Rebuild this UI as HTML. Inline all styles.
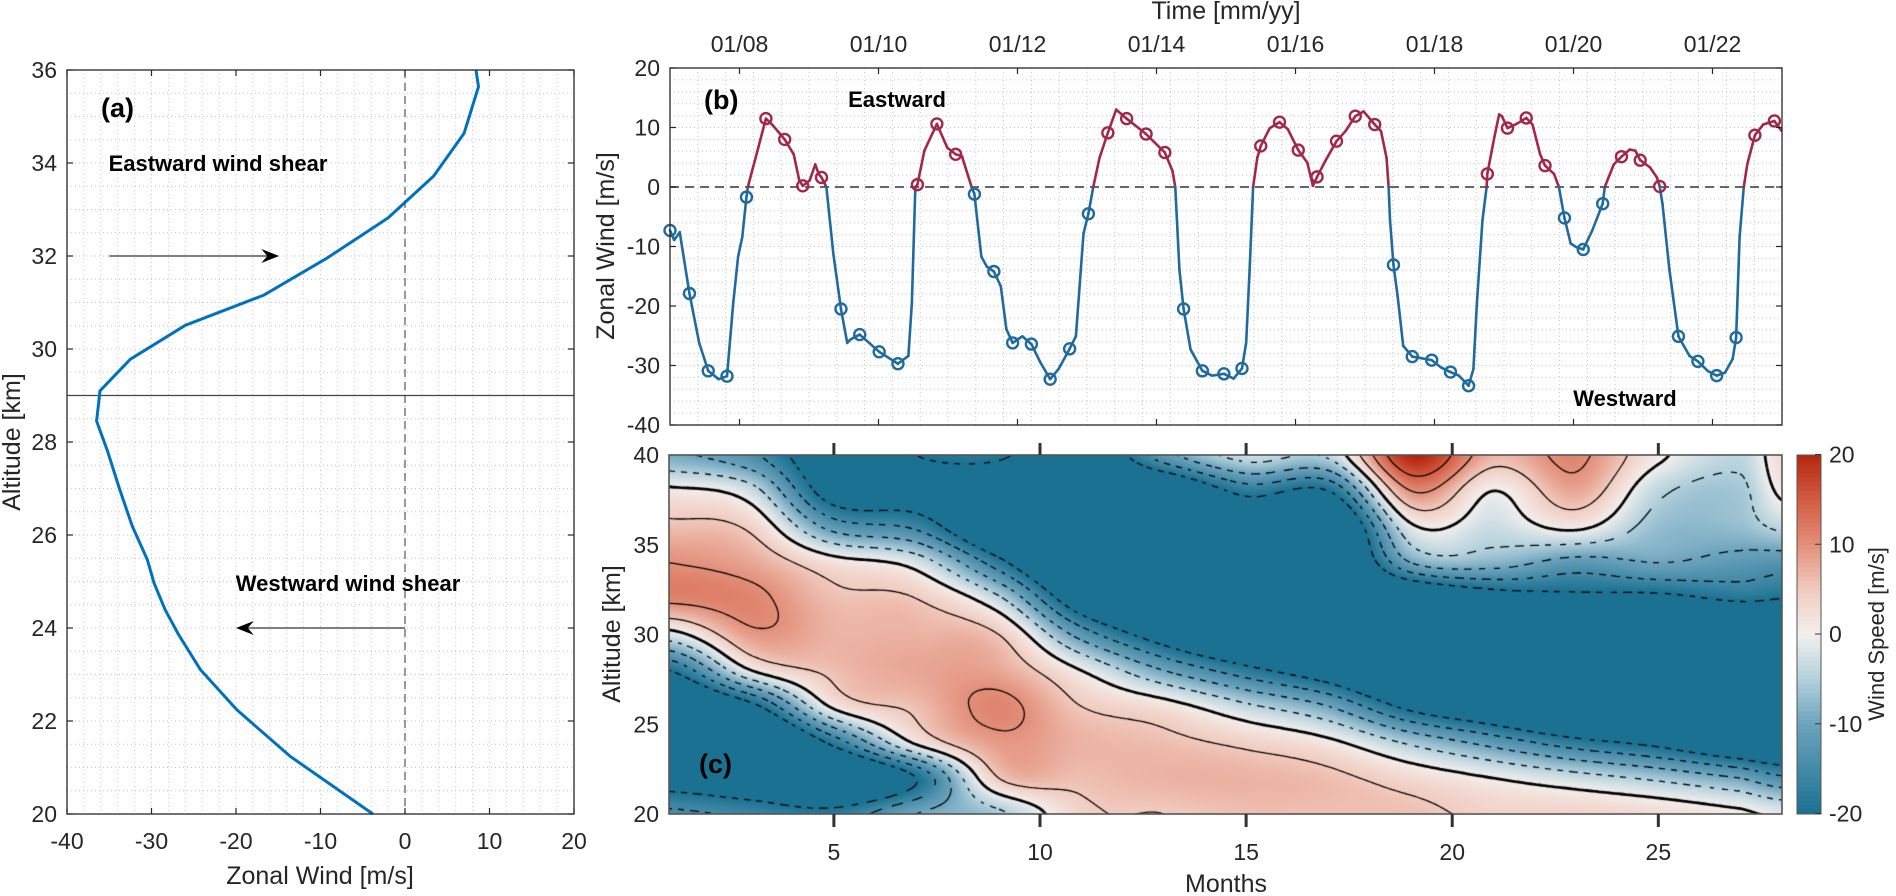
<!DOCTYPE html>
<html><head><meta charset="utf-8">
<style>
html,body{margin:0;padding:0;background:#fff;}
#wrap{position:relative;width:1896px;height:896px;overflow:hidden;font-family:"Liberation Sans",Arial,sans-serif;}
#field{position:absolute;left:669px;top:455px;}
#svg{position:absolute;left:0;top:0;}
</style></head>
<body>
<div id="wrap">
<canvas id="field" width="1113" height="359"></canvas>
<svg id="svg" width="1896" height="896" xmlns="http://www.w3.org/2000/svg"></svg>
</div>
<script>
// ---------- Panel (a) data ----------
const aAlt=[36,35.64,34.64,33.72,32.82,31.96,31.16,30.51,29.78,29.1,28.45,27.8,27,26.2,25.47,24.97,24.4,23.86,23.1,22.24,21.24,20];
const aWind=[8.4,8.7,7.0,3.4,-2.0,-9.2,-16.7,-26,-32.5,-36.1,-36.5,-35.2,-33.8,-32.3,-30.5,-29.7,-28.4,-26.8,-24.2,-19.9,-13.6,-3.8];
const aXTicks=[-40,-30,-20,-10,0,10,20];
const aYTicks=[20,22,24,26,28,30,32,34,36];
// ---------- Panel (b) data ----------
const bLineT=[2007.00,2007.06,2007.14,2007.28,2007.42,2007.55,2007.70,2007.82,2007.91,2007.98,2008.04,2008.10,2008.12,2008.27,2008.38,2008.47,2008.65,2008.78,2008.86,2008.91,2009.01,2009.09,2009.14,2009.18,2009.25,2009.35,2009.46,2009.55,2009.60,2009.73,2010.01,2010.28,2010.43,2010.48,2010.53,2010.56,2010.66,2010.84,2010.99,2011.11,2011.20,2011.34,2011.38,2011.48,2011.56,2011.66,2011.76,2011.84,2011.93,2012.07,2012.20,2012.33,2012.47,2012.59,2012.75,2012.84,2012.95,2013.02,2013.09,2013.18,2013.30,2013.42,2013.57,2013.85,2014.12,2014.23,2014.27,2014.33,2014.39,2014.49,2014.66,2014.80,2014.97,2015.11,2015.23,2015.29,2015.34,2015.39,2015.45,2015.50,2015.63,2015.77,2015.89,2016.04,2016.17,2016.25,2016.31,2016.43,2016.59,2016.72,2016.86,2016.98,2017.14,2017.23,2017.31,2017.34,2017.36,2017.41,2017.47,2017.55,2017.68,2017.96,2018.09,2018.23,2018.35,2018.49,2018.56,2018.61,2018.69,2018.75,2018.76,2018.86,2018.93,2018.97,2019.05,2019.18,2019.32,2019.41,2019.52,2019.59,2019.72,2019.79,2019.87,2019.96,2020.04,2020.14,2020.27,2020.42,2020.45,2020.58,2020.69,2020.81,2020.89,2020.96,2021.10,2021.20,2021.24,2021.28,2021.38,2021.51,2021.67,2021.79,2021.93,2022.06,2022.18,2022.29,2022.34,2022.39,2022.45,2022.50,2022.61,2022.73,2022.89,2022.99];
const bLineV=[-7.3,-8.9,-7.6,-17.9,-26.2,-30.9,-32.3,-31.8,-19.5,-11.7,-8.4,-1.7,0,6.6,11.5,10.5,8.0,5.5,1.1,0.2,1.1,3.8,2.2,1.6,0,-11.2,-20.5,-26.2,-25.6,-24.8,-27.7,-29.7,-28.4,-19.5,0,0.4,6.1,10.6,6.6,5.5,5.2,0,-1.2,-11.7,-13.4,-14.2,-16.7,-23.9,-26.2,-25.1,-26.4,-29.5,-32.3,-30.6,-27.2,-25.1,-7.8,-4.5,0,4.9,9.1,13.0,11.5,8.9,5.8,2.7,0,-13.9,-20.5,-27.3,-30.9,-31.7,-31.4,-32.2,-30.5,-26.2,-13.9,0,4.9,6.9,9.9,10.9,9.7,6.2,4.1,0.2,1.7,4.4,7.7,9.4,11.9,12.7,10.5,9.4,4.9,0,-5.6,-13.1,-18.4,-26.7,-28.5,-29.1,-30.3,-31.1,-31.7,-33.4,-30.6,-19.5,-5.6,0,2.2,8.3,12.2,11.9,9.9,10.6,11.6,10.5,5.5,3.6,2.2,0,-5.2,-9.5,-10.1,-10.5,-7.3,-2.8,0,3.8,5.1,6.3,6.1,4.5,3.3,1.6,0.1,-2.8,-13.9,-25.1,-28.4,-29.3,-30.9,-31.7,-31.2,-28.9,-25.3,-8.4,0,3.8,8.7,10.5,11.1,9.5];
const bMarkT=[2007.00,2007.28,2007.55,2007.82,2008.10,2008.38,2008.65,2008.91,2009.18,2009.46,2009.73,2010.01,2010.28,2010.56,2010.84,2011.11,2011.38,2011.66,2011.93,2012.20,2012.47,2012.75,2013.02,2013.30,2013.57,2013.85,2014.12,2014.39,2014.66,2014.97,2015.23,2015.50,2015.77,2016.04,2016.31,2016.59,2016.86,2017.14,2017.41,2017.68,2017.96,2018.23,2018.49,2018.76,2019.05,2019.32,2019.59,2019.87,2020.14,2020.42,2020.69,2020.96,2021.24,2021.51,2021.79,2022.06,2022.34,2022.61,2022.89];
const bMarkV=[-7.3,-17.9,-30.9,-31.8,-1.7,11.5,8.0,0.2,1.6,-20.5,-24.8,-27.7,-29.7,0.4,10.6,5.5,-1.2,-14.2,-26.2,-26.4,-32.3,-27.2,-4.5,9.1,11.5,8.9,5.8,-20.5,-30.9,-31.4,-30.5,6.9,10.9,6.2,1.7,7.7,11.9,10.5,-13.1,-28.5,-29.1,-31.1,-33.4,2.2,9.9,11.6,3.6,-5.2,-10.5,-2.8,5.1,4.5,0.1,-25.1,-29.3,-31.7,-25.3,8.7,11.1];
const bYTicks=[-40,-30,-20,-10,0,10,20];
const bDateTicks=[2008,2010,2012,2014,2016,2018,2020,2022];
const bDateLabels=['01/08','01/10','01/12','01/14','01/16','01/18','01/20','01/22'];
// ---------- Panel (c) data ----------
const cMonths=[1,3,5,7,9,11,13,15,17,19,21,23,25,27,28];
const cAlts=[20,22,24,26,28,30,32,34,36,38,40];
const cField=[
[-14,-24,-32,-32,-20,-2,11,10,6,1,-9],
[-16,-28,-35,-22,0,9,11,8,4,-3,-14],
[-18,-32,-18,1,6,7,6,2,-12,-24,-26],
[-10,-20,1,6,8,7,5,-2,-16,-24,-20],
[-6,5,9,11,8,5,-4,-18,-30,-28,-19],
[4,6,7,5,0,-12,-26,-35,-35,-35,-28],
[5,7,6,2,-10,-24,-35,-35,-35,-30,-12],
[6,7,4,-4,-18,-32,-35,-35,-30,-18,-3],
[6,6,1,-10,-25,-35,-35,-35,-33,-20,-4],
[6,3,-6,-22,-35,-35,-30,-10,-1,10,20],
[4,0,-12,-28,-35,-35,-24,-8,-3,0,7],
[4,-3,-18,-35,-35,-35,-22,-12,1,8,11],
[3,-6,-22,-35,-35,-35,-22,-10,-7,-4,1],
[1,-10,-28,-35,-35,-35,-19,-12,-7,-6,-4],
[-1,-14,-30,-35,-35,-35,-20,-13,-4,1,3]];
const cXTicks=[5,10,15,20,25];
const cYTicks=[20,25,30,35,40];
const cbTicks=[-20,-10,0,10,20];
const cLevels=[-20,-15,-10,-5,0,5,10,15];

// ---------- scales ----------
const Xa=w=>67+(w+40)*8.45, Ya=h=>814-(h-20)*46.5;
const Xb=t=>670+(t-2007)*69.5, Yb=v=>68+(20-v)*5.95;
const Xc=m=>669+(m-1)*(1113/27), Yc=a=>814-(a-20)*17.95;
const Ycb=v=>634-v*(359/40);

const NS='http://www.w3.org/2000/svg';
const svg=document.getElementById('svg');
function mk(tag,attrs,parent){const e=document.createElementNS(NS,tag);for(const k in attrs)e.setAttribute(k,attrs[k]);(parent||svg).appendChild(e);return e;}
function grp(name){const g=mk('g',{});return g;}
const TXT='#262626';
const FT=23, FA=25;
function label(g,x,y,s,opts){const t=mk('text',Object.assign({x:x,y:y,'font-size':FT,fill:TXT,'font-family':'Liberation Sans, Arial, sans-serif'},opts||{}),g);t.textContent=s;return t;}

// ---------- colormap ----------
const cmStops=[[-20,[26,113,146]],[-10,[108,163,189]],[-5,[178,208,220]],[0,[243,240,238]],[5,[241,203,191]],[10,[227,143,122]],[15,[211,92,66]],[20,[180,38,14]]];
function cmap(v){if(v<=-20)return cmStops[0][1];if(v>=20)return cmStops[7][1];
for(let i=0;i<7;i++){const a=cmStops[i],b=cmStops[i+1];if(v<=b[0]){const f=(v-a[0])/(b[0]-a[0]);return [0,1,2].map(k=>Math.round(a[1][k]+(b[1][k]-a[1][k])*f));}}}

// ---------- field interpolation ----------
function cr(p0,p1,p2,p3,t){return 0.5*((2*p1)+(-p0+p2)*t+(2*p0-5*p1+4*p2-p3)*t*t+(-p0+3*p1-3*p2+p3)*t*t*t);}
function colAt(ci,a){ci=Math.max(0,Math.min(cMonths.length-1,ci));const col=cField[ci];
let fi=(a-cAlts[0])/(cAlts[1]-cAlts[0]);let i=Math.min(Math.floor(fi),col.length-2);const t=fi-i;
const g=k=>col[Math.max(0,Math.min(col.length-1,k))];return cr(g(i-1),g(i),g(i+1),g(i+2),t);}
function fieldAt(m,a){let i=0;while(i<cMonths.length-2&&m>cMonths[i+1])i++;
const t=(m-cMonths[i])/(cMonths[i+1]-cMonths[i]);return cr(colAt(i-1,a),colAt(i,a),colAt(i+1,a),colAt(i+2,a),t);}

// draw field
(function(){const cv=document.getElementById('field');const ctx=cv.getContext('2d');
const W=cv.width,H=cv.height;const img=ctx.createImageData(W,H);
const mPerPx=27/1113, aPerPx=20/359;
for(let y=0;y<H;y++){const a=40-(y+0.5)*aPerPx;for(let x=0;x<W;x++){const m=1+(x+0.5)*mPerPx;const c=cmap(fieldAt(m,a));const o=(y*W+x)*4;img.data[o]=c[0];img.data[o+1]=c[1];img.data[o+2]=c[2];img.data[o+3]=255;}}
ctx.putImageData(img,0,0);
const S=3;const nx=Math.ceil(W/S)+1,ny=Math.ceil(H/S)+1;const V=[];
for(let j=0;j<ny;j++){V[j]=[];for(let i=0;i<nx;i++){V[j][i]=fieldAt(1+i*S*mPerPx,40-j*S*aPerPx);}}
cLevels.forEach(L=>{
ctx.strokeStyle='#000';ctx.lineWidth=L===0?2.8:1.3;ctx.beginPath();
for(let j=0;j<ny-1;j++)for(let i=0;i<nx-1;i++){
const v0=V[j][i],v1=V[j][i+1],v2=V[j+1][i+1],v3=V[j+1][i];
const pts=[];const x0=i*S,y0=j*S;
const e=(va,vb,xa,ya,xb,yb)=>{if((va<L)!==(vb<L)){const f=(L-va)/(vb-va);pts.push([xa+(xb-xa)*f,ya+(yb-ya)*f]);}};
e(v0,v1,x0,y0,x0+S,y0);e(v1,v2,x0+S,y0,x0+S,y0+S);e(v3,v2,x0,y0+S,x0+S,y0+S);e(v0,v3,x0,y0,x0,y0+S);
for(let k=0;k+1<pts.length;k+=2){const p=pts[k],q=pts[k+1];
if(L<0){const s=(p[0]+q[0])/2+(p[1]+q[1])/2;if(Math.floor(s/7)%2===1)continue;}
ctx.moveTo(p[0],p[1]);ctx.lineTo(q[0],q[1]);}}
ctx.stroke();});
})();

// ================= Panel (a) =================
const gA=grp('panel-a');
const gAg=grp('panel-a-grid');gA.appendChild(gAg);
for(let w=-38;w<20;w+=2){mk('line',{x1:Xa(w),x2:Xa(w),y1:70,y2:814,stroke:'#c4c4c4','stroke-width':1,'stroke-dasharray':'1 3'},gAg);}
for(let h=20.5;h<36;h+=0.5){mk('line',{x1:67,x2:574,y1:Ya(h),y2:Ya(h),stroke:'#c4c4c4','stroke-width':1,'stroke-dasharray':'1 3'},gAg);}
const zeroA=mk('line',{x1:Xa(0),x2:Xa(0),y1:70,y2:814,stroke:'#555','stroke-width':1.2,'stroke-dasharray':'8 5'},gA);


const h29=mk('line',{x1:67,x2:574,y1:Ya(29),y2:Ya(29),stroke:'#444','stroke-width':1.2},gA);


const aPath=mk('path',{d:aAlt.map((h,i)=>(i?'L':'M')+Xa(aWind[i]).toFixed(1)+' '+Ya(h).toFixed(1)).join(' '),fill:'none',stroke:'#0072BD','stroke-width':3,'stroke-linejoin':'round'},gA);


const aBox=mk('rect',{x:67,y:70,width:507,height:744,fill:'none',stroke:'#262626','stroke-width':1.3},gA);


aXTicks.forEach(w=>{mk('line',{x1:Xa(w),x2:Xa(w),y1:814,y2:808,stroke:'#262626','stroke-width':1.2},gA);mk('line',{x1:Xa(w),x2:Xa(w),y1:70,y2:76,stroke:'#262626','stroke-width':1.2},gA);
const t=label(gA,Xa(w),849,String(w),{'text-anchor':'middle'});});
aYTicks.forEach(h=>{mk('line',{x1:67,x2:73,y1:Ya(h),y2:Ya(h),stroke:'#262626','stroke-width':1.2},gA);mk('line',{x1:574,x2:568,y1:Ya(h),y2:Ya(h),stroke:'#262626','stroke-width':1.2},gA);
const t=label(gA,57,Ya(h)+8,String(h),{'text-anchor':'end'});});
const aXL=label(gA,320,884,'Zonal Wind [m/s]',{'text-anchor':'middle','font-size':FA});

const aYL=label(gA,0,0,'Altitude [km]',{'text-anchor':'middle','font-size':FA,transform:'translate(20,442) rotate(-90)'});

const aTag=label(gA,101,117,'(a)',{'font-weight':'bold','font-size':27,fill:'#000'});

const eTxt=label(gA,218,171,'Eastward wind shear',{'text-anchor':'middle','font-weight':'bold','font-size':22,fill:'#000'});

const wTxt=label(gA,348,591,'Westward wind shear',{'text-anchor':'middle','font-weight':'bold','font-size':22,fill:'#000'});

const eArr=mk('g',{},gA);
mk('line',{x1:Xa(-35),x2:Xa(-16),y1:Ya(32),y2:Ya(32),stroke:'#555','stroke-width':1.6},eArr);
mk('path',{d:`M${Xa(-14.9)} ${Ya(32)} L${Xa(-17)} ${Ya(32)-7} L${Xa(-16.3)} ${Ya(32)} L${Xa(-17)} ${Ya(32)+7} Z`,fill:'#000'},eArr);
const wArr=mk('g',{},gA);
mk('line',{x1:Xa(0),x2:Xa(-19),y1:Ya(24),y2:Ya(24),stroke:'#555','stroke-width':1.6},wArr);
mk('path',{d:`M${Xa(-20)} ${Ya(24)} L${Xa(-17.9)} ${Ya(24)-7} L${Xa(-18.6)} ${Ya(24)} L${Xa(-17.9)} ${Ya(24)+7} Z`,fill:'#000'},wArr);

// ================= Panel (b) =================
const gB=grp('panel-b');
const gBg=grp('panel-b-grid');gB.appendChild(gBg);
for(let t=2007.4;t<2023;t+=0.4){mk('line',{x1:Xb(t),x2:Xb(t),y1:68,y2:425,stroke:'#c4c4c4','stroke-width':1,'stroke-dasharray':'1 3'},gBg);}
for(let v=-38;v<20;v+=2){mk('line',{x1:670,x2:1782,y1:Yb(v),y2:Yb(v),stroke:'#c4c4c4','stroke-width':1,'stroke-dasharray':'1 3'},gBg);}
const zb=mk('line',{x1:670,x2:1782,y1:Yb(0),y2:Yb(0),stroke:'#666','stroke-width':2,'stroke-dasharray':'9 6'},gB);

const gLine=grp('zonal-wind-series');gB.appendChild(gLine);
for(let i=0;i<bLineT.length-1;i++){const mid=(bLineV[i]+bLineV[i+1])/2;
const s=mk('line',{x1:Xb(bLineT[i]),y1:Yb(bLineV[i]),x2:Xb(bLineT[i+1]),y2:Yb(bLineV[i+1]),stroke:mid>=0?'#A2284A':'#1F6A9E','stroke-width':2.6,'stroke-linecap':'round'},gLine);

}
const gMk=grp('series-markers');gB.appendChild(gMk);
for(let i=0;i<bMarkT.length;i++){const c=mk('circle',{cx:Xb(bMarkT[i]),cy:Yb(bMarkV[i]),r:5.5,fill:'none',stroke:bMarkV[i]>=0?'#A2284A':'#1F6A9E','stroke-width':2.4},gMk);

}
const bBox=mk('rect',{x:670,y:68,width:1112,height:357,fill:'none',stroke:'#262626','stroke-width':1.3},gB);

bDateTicks.forEach((t,i)=>{mk('line',{x1:Xb(t),x2:Xb(t),y1:68,y2:74,stroke:'#262626','stroke-width':1.2},gB);mk('line',{x1:Xb(t),x2:Xb(t),y1:425,y2:419,stroke:'#262626','stroke-width':1.2},gB);
const l=label(gB,Xb(t),52,bDateLabels[i],{'text-anchor':'middle'});});
bYTicks.forEach(v=>{mk('line',{x1:670,x2:676,y1:Yb(v),y2:Yb(v),stroke:'#262626','stroke-width':1.2},gB);mk('line',{x1:1782,x2:1776,y1:Yb(v),y2:Yb(v),stroke:'#262626','stroke-width':1.2},gB);
const l=label(gB,660,Yb(v)+8,String(v),{'text-anchor':'end'});});
const tT=label(gB,1226,19,'Time [mm/yy]',{'text-anchor':'middle','font-size':FA});

const bYL=label(gB,0,0,'Zonal Wind [m/s]',{'text-anchor':'middle','font-size':FA,transform:'translate(614,246) rotate(-90)'});

const bTag=label(gB,704,109,'(b)',{'font-weight':'bold','font-size':27,fill:'#000'});

const eb=label(gB,897,107,'Eastward',{'text-anchor':'middle','font-weight':'bold','font-size':22,fill:'#000'});

const wb=label(gB,1625,406,'Westward',{'text-anchor':'middle','font-weight':'bold','font-size':22,fill:'#000'});


// ================= Panel (c) =================
const gC=grp('panel-c');
const cBox=mk('rect',{x:669,y:455,width:1113,height:359,fill:'none',stroke:'#555','stroke-width':1.6},gC);

cXTicks.forEach(m=>{mk('line',{x1:Xc(m),x2:Xc(m),y1:443,y2:455,stroke:'#333','stroke-width':3},gC);mk('line',{x1:Xc(m),x2:Xc(m),y1:814,y2:827,stroke:'#333','stroke-width':3},gC);
const l=label(gC,Xc(m),860,String(m),{'text-anchor':'middle'});});
cYTicks.forEach(a=>{const l=label(gC,659,Yc(a)+8,String(a),{'text-anchor':'end'});});
const mT=label(gC,1226,892,'Months',{'text-anchor':'middle','font-size':FA});

const cYL=label(gC,0,0,'Altitude [km]',{'text-anchor':'middle','font-size':FA,transform:'translate(620,634) rotate(-90)'});

const cTag=label(gC,699,773,'(c)',{'font-weight':'bold','font-size':27,fill:'#000'});

// colorbar
const gCb=grp('colorbar');
for(let k=0;k<80;k++){const v0=-20+k*0.5;const c=cmap(v0+0.25);
const r=mk('rect',{x:1797,y:Ycb(v0+0.5),width:24,height:(359/80)+0.6,fill:`rgb(${c[0]},${c[1]},${c[2]})`},gCb);
}
mk('rect',{x:1797,y:455,width:24,height:359,fill:'none',stroke:'#555','stroke-width':1},gCb);
cbTicks.forEach(v=>{mk('line',{x1:1815,x2:1821,y1:Ycb(v),y2:Ycb(v),stroke:'#333','stroke-width':1},gCb);
const l=label(gCb,1829,Ycb(v)+8,String(v));});
const cbT=label(gCb,0,0,'Wind Speed [m/s]',{'text-anchor':'middle','font-size':22,transform:'translate(1884,634) rotate(-90)'});

</script>
</body></html>
